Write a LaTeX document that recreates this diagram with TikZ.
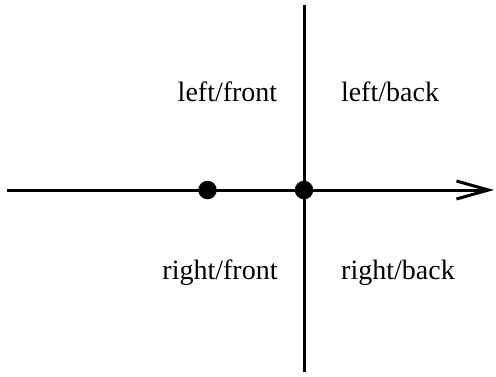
\documentclass[tikz,border=0pt]{standalone}
\usepackage{fontspec}
\setmainfont{Liberation Serif}
\usetikzlibrary{arrows.meta}
\begin{document}
\begin{tikzpicture}[x=1pt,y=-1pt,
  axis/.style={line width=3pt},
  dot/.style={circle,fill=black,inner sep=0pt,minimum size=18.5pt},
  lbl/.style={font=\fontsize{28}{32}\selectfont,inner sep=0pt,anchor=base}]
\useasboundingbox (0,0) rectangle (496,376);
\coordinate (hl) at (7,190);
\coordinate (hr) at (494,190);
\coordinate (vt) at (304,5);
\coordinate (vb) at (304,372);
\draw[axis,-{Straight Barb[length=32pt,width=18pt,line width=3pt]}] (hl) -- (hr);
\draw[axis] (vt) -- (vb);
\node[dot] (d1) at (207.5,190) {};
\node[dot] (d2) at (304,190) {};
\node[lbl] (lf) at (227.5,101.5) {left/front};
\node[lbl] (lb) at (390,101.5) {left/back};
\node[lbl] (rf) at (220,279.5) {right/front};
\node[lbl] (rb) at (398,279.5) {right/back};
\end{tikzpicture}
\end{document}
